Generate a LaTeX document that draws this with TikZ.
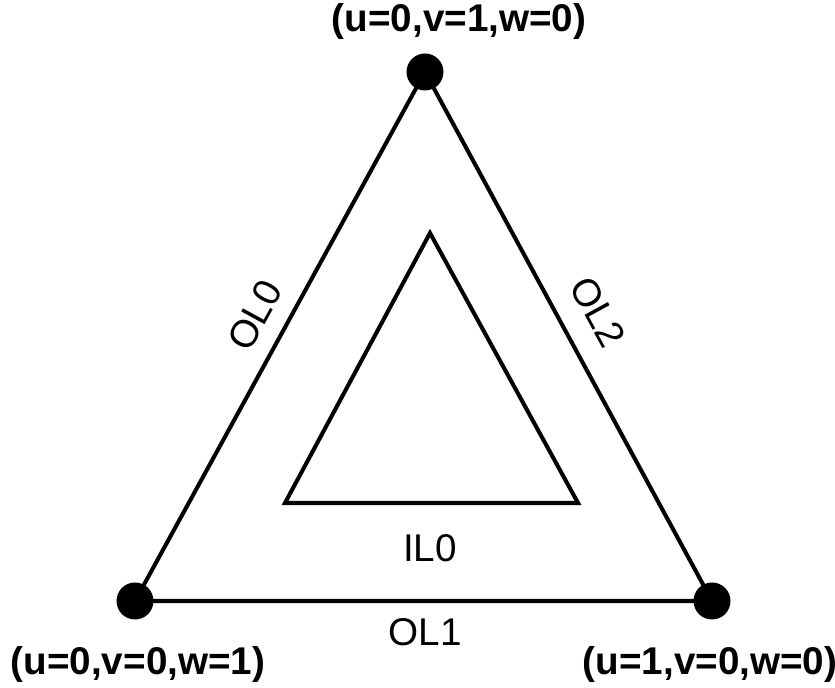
\documentclass[tikz,border=0pt]{standalone}
\usepackage{fontspec}
\setmainfont{Liberation Sans}
\begin{document}
\begin{tikzpicture}[x=0.02cm, y=0.02cm, line width=2.3pt,
  vtx/.style={circle, fill=black, inner sep=0pt, minimum size=0.74cm},
  lbl/.style={font=\fontsize{22}{26}\selectfont},
  blbl/.style={font=\fontsize{22}{26}\selectfont\bfseries}]
  \useasboundingbox (0,0) rectangle (835,688);
  % outer triangle
  \node[vtx] (top) at (425,616) {};
  \node[vtx] (left) at (135,87) {};
  \node[vtx] (right) at (712,87) {};
  \draw (left.center) -- (top.center) -- (right.center) -- cycle;
  % inner triangle
  \coordinate (itop) at (430,455);
  \coordinate (ileft) at (285,185);
  \coordinate (iright) at (578,185);
  \draw (ileft) -- (itop) -- (iright) -- cycle;
  % corner labels
  \node[blbl] (ltop) at (459,666) {(u=0,v=1,w=0)};
  \node[blbl] (lleft) at (138,23) {(u=0,v=0,w=1)};
  \node[blbl] (lright) at (710,23) {(u=1,v=0,w=0)};
  % edge labels
  \node[lbl, rotate=61.3] (ol0) at (255,373) {OL0};
  \node[lbl, rotate=-61.3] (ol2) at (598,376) {OL2};
  \node[lbl] (ol1) at (425,56) {OL1};
  \node[lbl] (il0) at (430,140) {IL0};
\end{tikzpicture}
\end{document}
